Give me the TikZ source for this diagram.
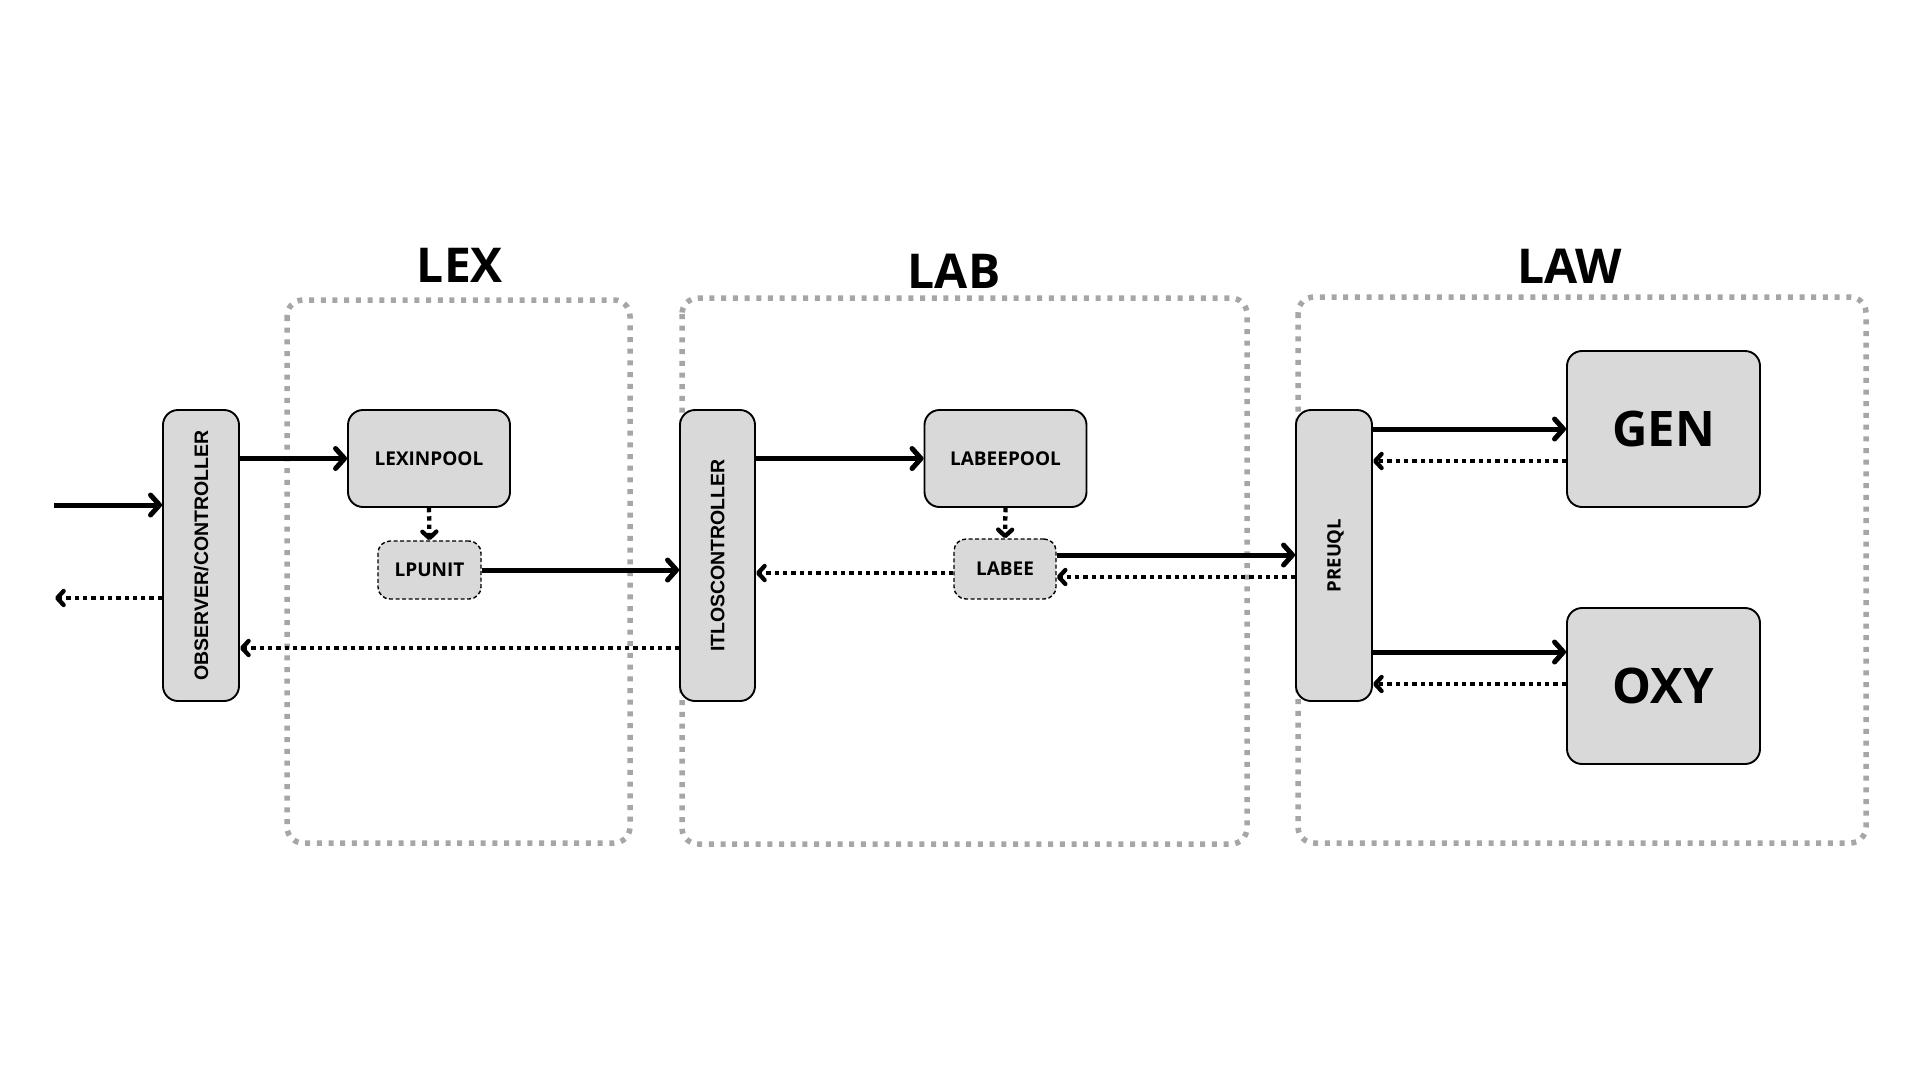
\documentclass[tikz,border=0pt]{standalone}
\usepackage{fontspec}
\setmainfont{Open Sans}
\newfontfamily\arialfont{Liberation Sans}
\usetikzlibrary{arrows.meta}
\definecolor{boxgray}{HTML}{D9D9D9}
\definecolor{framegray}{HTML}{A6A6A6}
\newcommand\vlabel[1]{\rotatebox{90}{\raisebox{0pt}[\height][0pt]{#1}}}
\begin{document}
\begin{tikzpicture}[x=1pt,y=-1pt,
  box/.style={draw=black, line width=1.9pt, fill=boxgray, rounded corners=15pt, inner sep=0pt, align=center, text depth=0pt, font=\bfseries\fontsize{19}{19}\selectfont},
  dbox/.style={box, line width=1.4pt, dash pattern=on 4pt off 2.5pt, rounded corners=12pt},
  frame/.style={draw=framegray, line width=5.5pt, dash pattern=on 5pt off 6.7pt, rounded corners=16pt},
  title/.style={font=\bfseries\fontsize{48}{48}\selectfont, inner sep=0pt, text depth=0pt},
  big/.style={font=\bfseries\fontsize{49}{49}\selectfont},
  solidarr/.style={line width=5pt, -{Straight Barb[length=9pt,width=20pt,round]}},
  dotarr/.style={line width=4.3pt, dash pattern=on 4.3pt off 4pt, -{Straight Barb[length=6.5pt,width=14pt,round]}},
]
\fill[white] (0,0) rectangle (1920,1080);
\useasboundingbox (0,0) rectangle (1920,1080);

% group frames
\draw[frame] (287,300) rectangle (630,843);
\draw[frame] (682,298) rectangle (1247,844);
\draw[frame] (1298,297) rectangle (1866,843);

% titles
\node[title] (tlex) at (460,265) {LEX};
\node[title] (tlab) at (954,271.5) {LAB};
\node[title] (tlaw) at (1570,266) {LAW};

% nodes
\node[box, minimum width=76pt, minimum height=291pt] (obs) at (201,555.5) {\arialfont\fontsize{19.5}{19.5}\selectfont\vlabel{OBSERVER/CONTROLLER}};
\node[box, minimum width=162pt, minimum height=97pt] (lexin) at (429,458.5) {LEXINPOOL};
\node[dbox, minimum width=103pt, minimum height=58pt] (lpunit) at (429.5,570) {LPUNIT};
\node[box, minimum width=75pt, minimum height=291pt] (itlos) at (717.5,555.5) {\arialfont\fontsize{19.5}{19.5}\selectfont\vlabel{ITLOSCONTROLLER}};
\node[box, minimum width=162pt, minimum height=97pt] (labeepool) at (1005.5,458.5) {LABEEPOOL};
\node[dbox, minimum width=102pt, minimum height=60pt] (labee) at (1005,569) {LABEE};
\node[box, minimum width=76pt, minimum height=291pt, font=\bfseries\fontsize{18.5}{18.5}\selectfont] (preuql) at (1334,555.5) {\vlabel{PREUQL}};
\node[box, big, minimum width=193pt, minimum height=156pt] (gen) at (1663.5,429) {GEN};
\node[box, big, minimum width=193pt, minimum height=156pt] (oxy) at (1663.5,686) {OXY};

% connector levels
\coordinate (inL) at (54,505);
\coordinate (outL) at (55,598);
\coordinate (yret) at (0,648);
\coordinate (ylabeeback) at (0,573);
\coordinate (ylp) at (0,555);
\coordinate (ylpback) at (0,577);
\coordinate (ygenback) at (0,461);
\coordinate (yoxy) at (0,652);
\coordinate (yoxyback) at (0,684);

% connectors
\draw[solidarr] (inL) -- (inL -| obs.west);
\draw[dotarr] (obs.west |- outL) -- (outL);
\draw[solidarr] (obs.east |- lexin.west) -- (lexin.west);
\draw[dotarr] (lexin.south) -- (lpunit.north);
\draw[solidarr] (lpunit.east) -- (lpunit.east -| itlos.west);
\draw[dotarr] (itlos.west |- yret) -- (obs.east |- yret);
\draw[solidarr] (itlos.east |- labeepool.west) -- (labeepool.west);
\draw[dotarr] (labeepool.south) -- (labee.north);
\draw[dotarr] (labee.west |- ylabeeback) -- (itlos.east |- ylabeeback);
\draw[solidarr] (labee.east |- ylp) -- (preuql.west |- ylp);
\draw[dotarr] (preuql.west |- ylpback) -- (labee.east |- ylpback);
\draw[solidarr] (preuql.east |- gen.west) -- (gen.west);
\draw[dotarr] (gen.west |- ygenback) -- (preuql.east |- ygenback);
\draw[solidarr] (preuql.east |- yoxy) -- (oxy.west |- yoxy);
\draw[dotarr] (oxy.west |- yoxyback) -- (preuql.east |- yoxyback);
\end{tikzpicture}
\end{document}
